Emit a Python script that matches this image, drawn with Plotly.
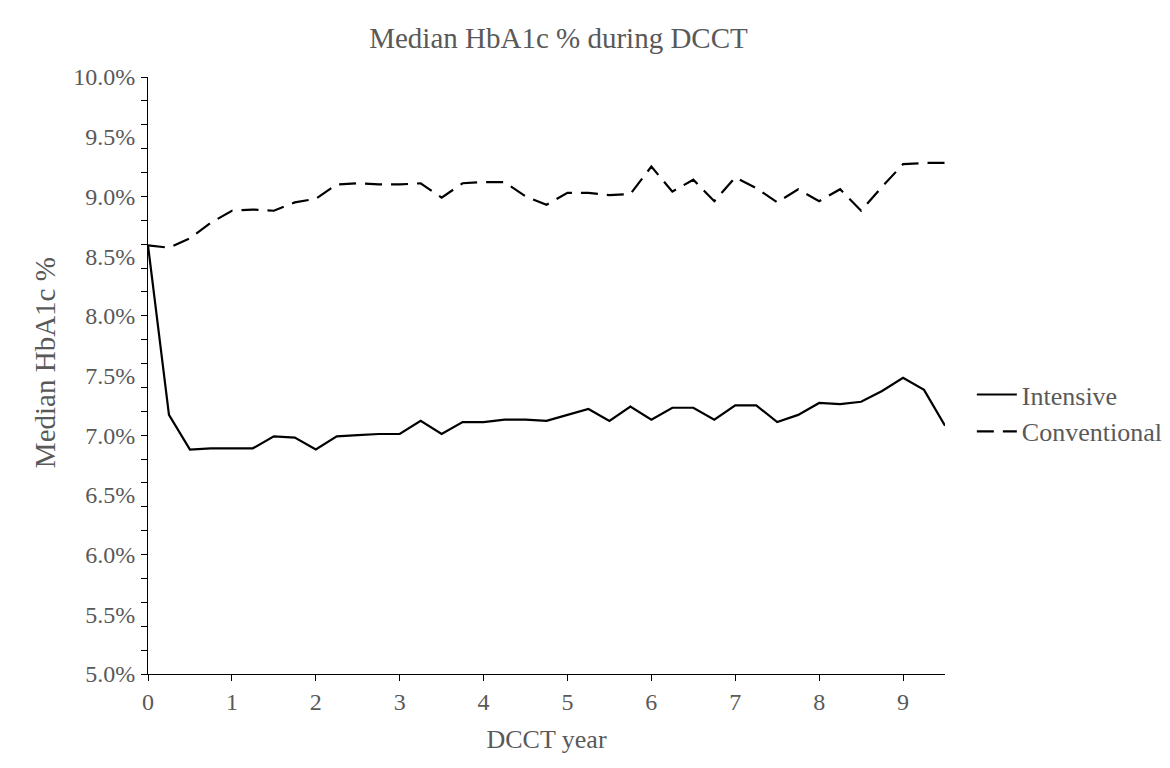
import plotly.graph_objects as go

years = [i * 0.25 for i in range(39)]

intensive = [8.59, 7.17, 6.88, 6.89, 6.89, 6.89, 6.99, 6.98, 6.88, 6.99,
             7.00, 7.01, 7.01, 7.12, 7.01, 7.11, 7.11, 7.13, 7.13, 7.12,
             7.17, 7.22, 7.12, 7.24, 7.13, 7.23, 7.23, 7.13, 7.25, 7.25,
             7.11, 7.17, 7.27, 7.26, 7.28, 7.37, 7.48, 7.38, 7.08]

conventional = [8.59, 8.57, 8.65, 8.78, 8.88, 8.89, 8.88, 8.95, 8.98, 9.10,
                9.11, 9.10, 9.10, 9.11, 8.99, 9.11, 9.12, 9.12, 9.00, 8.93,
                9.03, 9.03, 9.01, 9.02, 9.25, 9.04, 9.14, 8.96, 9.16, 9.07,
                8.95, 9.06, 8.96, 9.06, 8.88, 9.08, 9.27, 9.28, 9.28]

x_ticks = list(range(10))
y_label_vals = [5.0 + 0.5 * i for i in range(11)]
y_label_text = [f"{v:.1f}%" for v in y_label_vals]
y_mark_vals = [round(5.0 + 0.2 * i, 1) for i in range(26)]

FONT = "Liberation Serif, Times New Roman, serif"
GREY = "#595959"

fig = go.Figure()
fig.add_trace(go.Scatter(x=years, y=intensive, mode="lines", name="Intensive",
                         line=dict(color="black", width=2.2, dash="solid")))
fig.add_trace(go.Scatter(x=years, y=conventional, mode="lines", name="Conventional",
                         line=dict(color="black", width=2.2, dash="17px,9px")))
# label carrier on the overlaid axis
fig.add_trace(go.Scatter(x=[None], y=[None], yaxis="y2", showlegend=False,
                         hoverinfo="skip"))

fig.update_layout(
    width=1170, height=768,
    paper_bgcolor="white", plot_bgcolor="white",
    margin=dict(l=140, r=233, t=69, b=102, autoexpand=False),
    font=dict(family=FONT, color=GREY, size=24),
    title=dict(text="Median HbA1c % during DCCT", x=0.515, xref="paper",
               xanchor="center", y=0.961, yref="container", yanchor="middle",
               font=dict(size=29, color=GREY, family=FONT)),
    xaxis=dict(range=[0, 9.5], tickvals=x_ticks, ticktext=[str(v) for v in x_ticks],
               showline=True, linecolor="black", linewidth=1.3,
               ticks="outside", ticklen=6, tickcolor="black", tickwidth=1.3,
               showgrid=False, zeroline=False, automargin=False,
               tickfont=dict(size=24, color=GREY, family=FONT),
               title=dict(text="DCCT year", font=dict(size=26, color=GREY, family=FONT),
                          standoff=15)),
    yaxis=dict(range=[5.0, 10.0], tickvals=y_mark_vals, showticklabels=False,
               showline=True, linecolor="black", linewidth=1.3,
               ticks="outside", ticklen=6, tickcolor="black", tickwidth=1.3,
               showgrid=False, zeroline=False, automargin=False),
    yaxis2=dict(range=[5.0, 10.0], overlaying="y", side="left", anchor="x",
                tickvals=y_label_vals, ticktext=y_label_text, ticks="outside",
                ticklen=7, tickcolor="rgba(0,0,0,0)", automargin=False,
                showline=False, showgrid=False, zeroline=False,
                tickfont=dict(size=24, color=GREY, family=FONT)),
    legend=dict(x=1.0337, y=0.437, xanchor="left", yanchor="middle",
                font=dict(size=26, color=GREY, family=FONT),
                bgcolor="rgba(0,0,0,0)", itemwidth=40, tracegroupgap=4),
    showlegend=True,
    annotations=[dict(text="Median HbA1c %", textangle=-90, xref="paper", yref="paper",
                      x=-0.129, y=0.521, xanchor="center", yanchor="middle",
                      showarrow=False, font=dict(size=29, color=GREY, family=FONT))],
)

fig.write_html("out.html")
